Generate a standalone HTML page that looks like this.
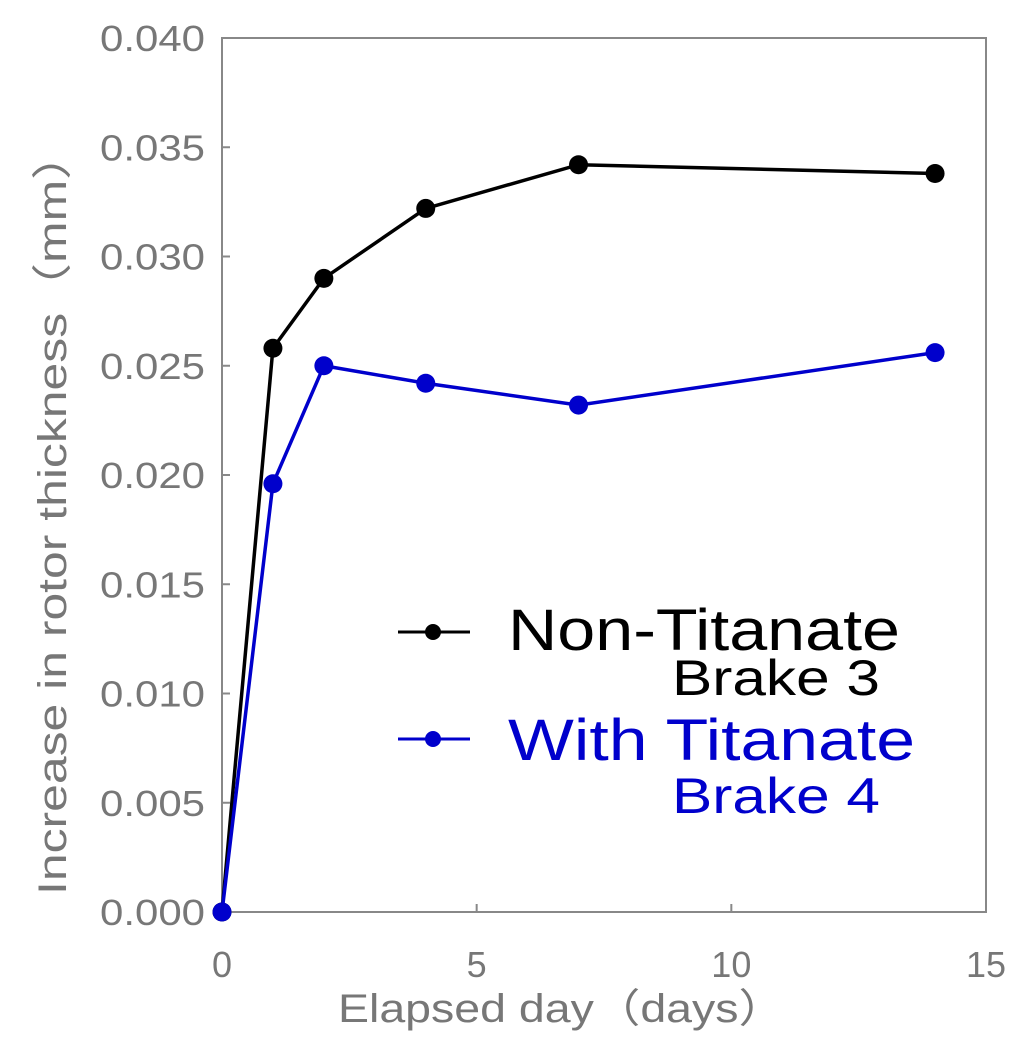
<!DOCTYPE html>
<html><head><meta charset="utf-8"><style>
html,body{margin:0;padding:0;background:#fff;}
svg{display:block;font-family:"Liberation Sans","Noto Sans CJK JP",sans-serif;}
</style></head><body>
<svg id="chart" width="1020" height="1050" viewBox="0 0 1020 1050" xmlns="http://www.w3.org/2000/svg">
<rect x="222" y="38" width="764" height="874" fill="none" stroke="#888" stroke-width="2"/>
<g id="axes"></g>
<g id="series"></g>
<text x="338" y="1022" font-size="40" fill="#777" textLength="447" lengthAdjust="spacingAndGlyphs">Elapsed day（days）</text>
<text transform="translate(66,895) rotate(-90)" font-size="40" fill="#777" textLength="765" lengthAdjust="spacingAndGlyphs">Increase in rotor thickness（mm）</text>
<g>
<line x1="398" y1="632" x2="470" y2="632" stroke="#000" stroke-width="3"/>
<circle cx="433" cy="632" r="8" fill="#000"/>
<text x="508" y="650" font-size="58" fill="#000" textLength="392" lengthAdjust="spacingAndGlyphs">Non-Titanate</text>
<text x="672" y="695" font-size="50" fill="#000" textLength="208" lengthAdjust="spacingAndGlyphs">Brake 3</text>
<line x1="398" y1="739" x2="470" y2="739" stroke="#0000cc" stroke-width="3"/>
<circle cx="433" cy="739" r="8" fill="#0000cc"/>
<text x="508" y="760" font-size="58" fill="#0000cc" textLength="407" lengthAdjust="spacingAndGlyphs">With Titanate</text>
<text x="672" y="813" font-size="50" fill="#0000cc" textLength="208" lengthAdjust="spacingAndGlyphs">Brake 4</text>
</g>
</svg>
<script>
const xTicks = [0, 5, 10, 15];
const yTicks = [0, 0.005, 0.010, 0.015, 0.020, 0.025, 0.030, 0.035, 0.040];
const days = [0, 1, 2, 4, 7, 14];
const nonTitanate = [0, 0.0258, 0.0290, 0.0322, 0.0342, 0.0338];
const withTitanate = [0, 0.0196, 0.0250, 0.0242, 0.0232, 0.0256];

const NS = 'http://www.w3.org/2000/svg';
const x = v => 222 + v / 15 * 764;
const y = v => 912 - v / 0.040 * 874;
const axes = document.getElementById('axes');
const ser = document.getElementById('series');
function mk(tag, attrs, parent) {
  const e = document.createElementNS(NS, tag);
  for (const k in attrs) e.setAttribute(k, attrs[k]);
  parent.appendChild(e);
  return e;
}
xTicks.forEach(t => {
  const l = mk('line', {x1: x(t), x2: x(t), y1: 912, y2: 904, stroke: '#888', 'stroke-width': 2}, axes);
  
  
  const tx = mk('text', {x: x(t), y: 977, 'font-size': 36, fill: '#777', 'text-anchor': 'middle'}, axes);
  tx.textContent = t;
  
  
});
yTicks.forEach(t => {
  const l = mk('line', {x1: 222, x2: 230, y1: y(t), y2: y(t), stroke: '#888', 'stroke-width': 2}, axes);
  
  
  const tx = mk('text', {x: 100, y: y(t) + 13, 'font-size': 36, fill: '#777', textLength: 105, lengthAdjust: 'spacingAndGlyphs'}, axes);
  tx.textContent = t.toFixed(3);
  
  
});
function drawSeries(vals, color, name) {
  const p = mk('polyline', {points: days.map((d, i) => x(d) + ',' + y(vals[i])).join(' '), fill: 'none', stroke: color, 'stroke-width': 3.5}, ser);
  
  
  days.forEach((d, i) => {
    const c = mk('circle', {cx: x(d), cy: y(vals[i]), r: 9.5, fill: color}, ser);
    
    
  });
}
drawSeries(nonTitanate, '#000', 'non-titanate');
drawSeries(withTitanate, '#0000cc', 'with-titanate');
</script>
</body></html>
